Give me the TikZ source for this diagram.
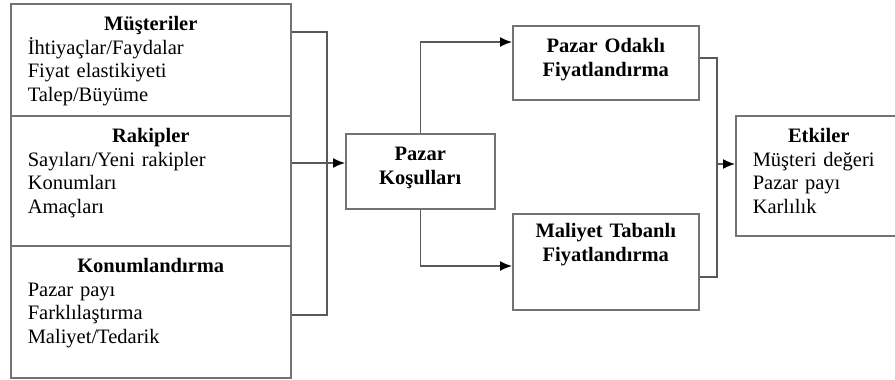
\documentclass[tikz,border=0pt]{standalone}
\usepackage{fontspec}
\setmainfont{Liberation Serif}
\usetikzlibrary{arrows.meta}
\begin{document}
\begin{tikzpicture}[x=1pt,y=-1pt]
    \tikzstyle{every node}+=[inner sep=0pt, font=\fontsize{20.5}{23.5}\selectfont]
    \tikzstyle{kutu}=[draw=black!55, line width=1.5pt, anchor=north west, text height=27pt]
    \tikzstyle{liste}=[kutu, align=left, inner xsep=17pt]
    \tikzstyle{baslik}=[kutu, align=center, font=\fontsize{20.5}{23.5}\selectfont\bfseries]
    \tikzstyle{hat}=[draw=black!65, line width=1.5pt]
    \tikzstyle{ok}=[hat, -{Latex[length=12pt,width=10pt,color=black]}]
    \useasboundingbox (0,0) rectangle (895,380);
    \node [liste, text width=246pt, text depth=85pt] (mus) at (10,3) {\makebox[\linewidth]{\textbf{Müşteriler}}\\İhtiyaçlar/Faydalar\\Fiyat elastikiyeti\\Talep/Büyüme};
    \node [liste, text width=246pt, text depth=103pt] (ray) at (10,115) {\makebox[\linewidth]{\textbf{Rakipler}}\\Sayıları/Yeni rakipler\\Konumları\\Amaçları};
    \node [liste, text width=246pt, text depth=105pt] (kon) at (10,245) {\makebox[\linewidth]{\textbf{Konumlandırma}}\\Pazar payı\\Farklılaştırma\\Maliyet/Tedarik};
    \node [baslik, text width=149pt, text height=27pt, text depth=48pt] (pk) at (345,133) {Pazar\\Koşulları};
    \node [baslik, text width=186pt, text depth=47pt] (po) at (512,25) {Pazar Odaklı\\Fiyatlandırma};
    \node [baslik, text width=186pt, text height=24pt, text depth=72pt] (mt) at (512,213) {Maliyet Tabanlı\\Fiyatlandırma};
    \node [liste, text width=132pt, text depth=93pt] (etk) at (735,115) {\makebox[\linewidth]{\textbf{Etkiler}}\\Müşteri değeri\\Pazar payı\\Karlılık};
    \coordinate (b1) at (327,32);
    \coordinate (b3) at (327,315);
    \coordinate (bm) at (327,163);
    \coordinate (u1) at (420,42);
    \coordinate (u2) at (420,266);
    \coordinate (r1) at (717,58);
    \coordinate (r3) at (717,277);
    \coordinate (rm) at (717,164);
    \draw [hat] (mus.east |- b1) -| (b3) -- (kon.east |- b3);
    \draw [ok] (ray.east |- bm) -- (pk.west |- bm);
    \draw [ok] (pk.north) |- (po.west |- u1);
    \draw [ok] (pk.south) |- (mt.west |- u2);
    \draw [hat] (po.east |- r1) -| (r3) -- (mt.east |- r3);
    \draw [ok] (rm) -- (etk.west |- rm);
\end{tikzpicture}
\end{document}
